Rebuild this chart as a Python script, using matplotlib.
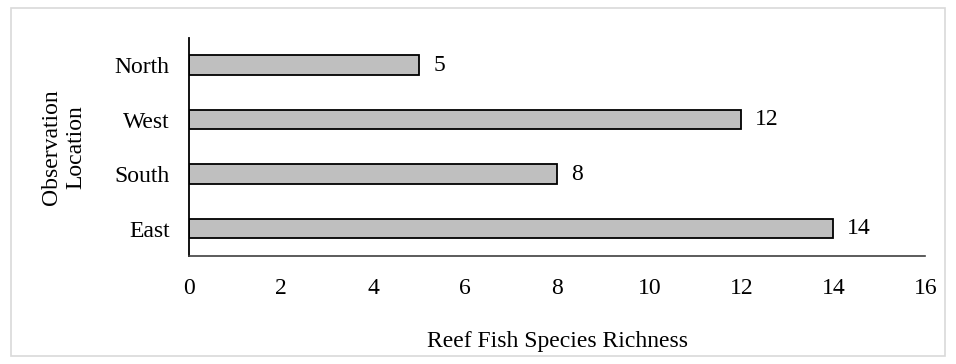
import matplotlib.pyplot as plt
from matplotlib.patches import Rectangle

locations = ['East', 'South', 'West', 'North']
richness = [14, 8, 12, 5]
xticks = [0, 2, 4, 6, 8, 10, 12, 14, 16]

plt.rcParams['font.family'] = ['Liberation Serif', 'DejaVu Serif']
fs = 17

fig = plt.figure(figsize=(9.56, 3.64), dpi=100)
ax = fig.add_axes([0.198, 0.297, 0.77, 0.599])

bars = ax.barh(locations, richness, height=0.36, color='#bfbfbf',
               edgecolor='black', linewidth=1.3)
for b, v in zip(bars, richness):
    ax.text(v + 0.3, b.get_y() + b.get_height() / 2, str(v),
            va='center', ha='left', fontsize=fs)

ax.set_xlim(0, 16)
ax.set_ylim(-0.5, 3.5)
ax.set_xticks(xticks)
ax.tick_params(length=0, labelsize=fs)
ax.tick_params(axis='x', pad=16)
ax.tick_params(axis='y', pad=14)
for s in ['top', 'right']:
    ax.spines[s].set_visible(False)
ax.spines['left'].set_linewidth(1.3)
ax.spines['bottom'].set_color('#404040')
ax.spines['bottom'].set_linewidth(1.2)

ax.set_xlabel('Reef Fish Species Richness', fontsize=fs)
ax.xaxis.set_label_coords(0.5, -0.345)
ax.set_ylabel('Observation\nLocation', fontsize=fs, linespacing=1.2)
ax.yaxis.set_label_coords(-0.14, 0.5)

# light frame around the whole chart area
fig.add_artist(Rectangle((0.011, 0.022), 0.978, 0.956, transform=fig.transFigure,
                         fill=False, edgecolor='#d9d9d9', linewidth=1.2))

fig.savefig('out.png', dpi=100)
